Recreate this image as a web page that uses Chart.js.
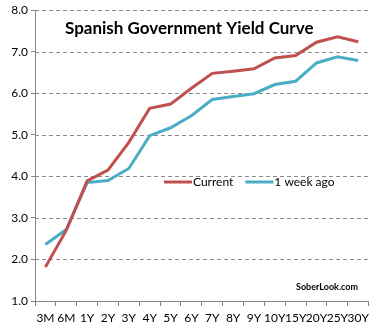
<!DOCTYPE html>
<html>
<head>
<meta charset="utf-8">
<script src="https://cdn.jsdelivr.net/npm/chart.js@4.4.0/dist/chart.umd.min.js"></script>
<style>
  html,body{margin:0;padding:0;background:#fff;}
  #wrap{width:374px;height:329px;position:relative;}
</style>
</head>
<body>
<div id="wrap"><canvas id="myChart" width="374" height="329"></canvas></div>
<script>
// tenors along the curve
const tenors=["3M","6M","1Y","2Y","3Y","4Y","5Y","6Y","7Y","8Y","9Y","10Y","15Y","20Y","25Y","30Y"];
// yields in %
const current=[1.82,2.70,3.89,4.15,4.82,5.64,5.74,6.12,6.48,6.53,6.59,6.85,6.91,7.23,7.36,7.24];
const weekAgo=[2.36,2.72,3.85,3.90,4.19,4.98,5.17,5.46,5.85,5.92,5.99,6.21,6.29,6.73,6.88,6.79];
const seriesNames=["Current","1 week ago"];
const seriesColors=["#C0504D","#4BACC6"];
const chartTitle="Spanish Government Yield Curve";
const credit="SoberLook.com";

const fontFam="Lato, 'Open Sans', sans-serif";

// title, legend and credit are drawn inside the plot like the original
const overlay={
  id:"overlay",
  afterDraw(chart){
    const ctx=chart.ctx;
    ctx.save();
    ctx.fillStyle="#000";
    ctx.textBaseline="middle";
    ctx.font="bold 17px "+fontFam;
    ctx.textAlign="left";
    ctx.fillText(chartTitle,65,29);

    // legend
    let x=164, y=182;
    ctx.font="12px "+fontFam;
    for(let i=0;i<seriesNames.length;i++){
      ctx.strokeStyle=seriesColors[i];
      ctx.lineWidth=3;
      ctx.beginPath();
      ctx.moveTo(x,y);ctx.lineTo(x+28,y);
      ctx.stroke();
      ctx.fillStyle="#000";
      ctx.fillText(seriesNames[i],x+29,y);
      x+=29+ctx.measureText(seriesNames[i]).width+12;
    }

    ctx.font="bold 9px "+fontFam;
    ctx.fillText(credit,296,287);
    ctx.restore();
  }
};

new Chart("myChart",{
  type:"line",
  data:{
    labels:tenors,
    datasets:[
      {label:seriesNames[0],data:current,borderColor:seriesColors[0],borderWidth:3,pointRadius:0,tension:0,fill:false},
      {label:seriesNames[1],data:weekAgo,borderColor:seriesColors[1],borderWidth:3,pointRadius:0,tension:0,fill:false}
    ]
  },
  options:{
    responsive:false,
    animation:false,
    layout:{padding:{top:9,right:2,left:0,bottom:0}},
    plugins:{legend:{display:false},title:{display:false},tooltip:{enabled:false}},
    scales:{
      x:{
        offset:true,
        grid:{offset:true,drawOnChartArea:false,tickLength:5,color:"#868686"},
        border:{color:"#868686"},
        ticks:{autoSkip:false,maxRotation:0,color:"#000",font:{family:fontFam,size:12},padding:5},
        afterFit(s){s.height=28;}
      },
      y:{
        min:1,max:8,
        grid:{color:"#868686",tickLength:4,drawOnChartArea:false},
        border:{color:"#868686"},
        ticks:{stepSize:1,color:"#000",font:{family:fontFam,size:12},padding:3,callback:v=>v.toFixed(1)},
        afterFit(s){s.width=35;}
      }
    }
  },
  plugins:[overlay,{
    id:"dashgrid",
    beforeDatasetsDraw(chart){
      // dashed horizontal gridlines
      const y=chart.scales.y, a=chart.chartArea, ctx=chart.ctx;
      ctx.save();
      ctx.strokeStyle="#8c8c8c";ctx.lineWidth=1;ctx.setLineDash([4,3]);
      y.ticks.forEach(t=>{
        if(t.value===1) return;
        const py=Math.round(y.getPixelForValue(t.value))+0.5;
        ctx.beginPath();ctx.moveTo(a.left,py);ctx.lineTo(a.right,py);ctx.stroke();
      });
      ctx.restore();
    }
  }]
});
</script>
</body>
</html>
